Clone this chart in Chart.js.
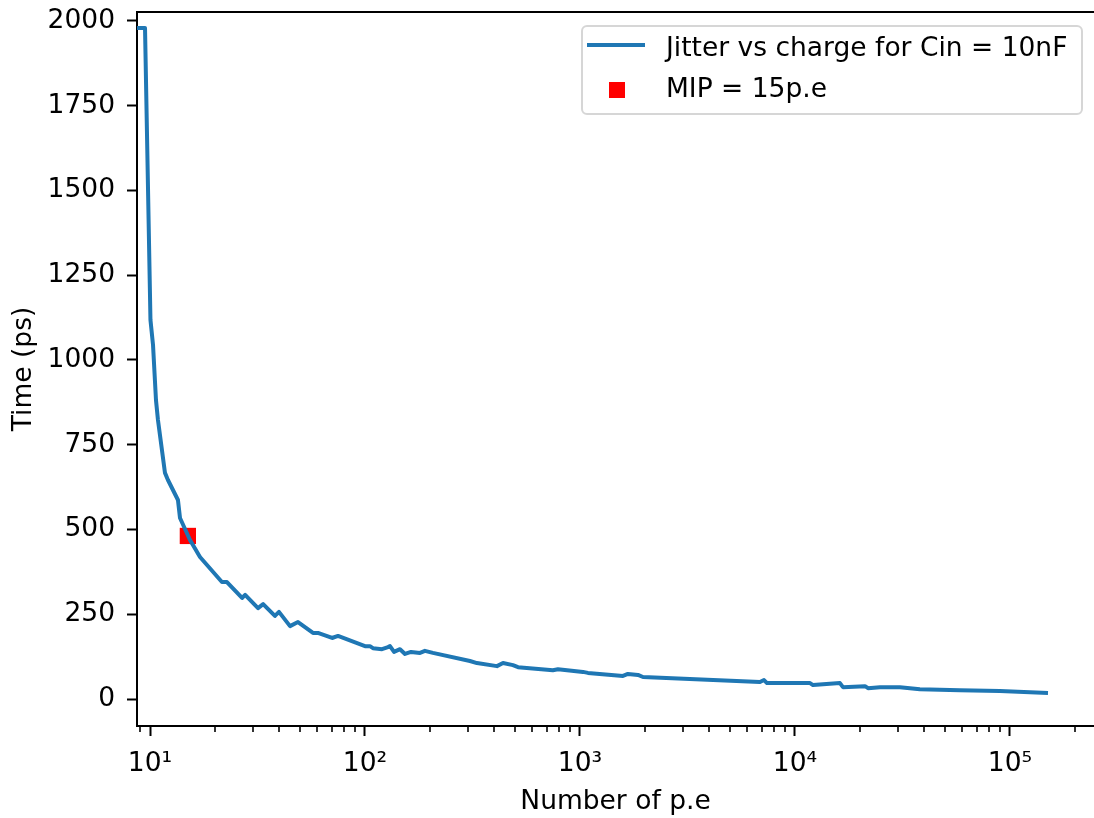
<!DOCTYPE html>
<html>
<head>
<meta charset="utf-8">
<title>Jitter vs charge</title>
<script src="https://cdn.jsdelivr.net/npm/chart.js@4.4.0/dist/chart.umd.min.js"></script>
<style>
    html, body { margin: 0; padding: 0; background: #fff; overflow: hidden; }
    #wrap { position: relative; width: 1094px; height: 818px; }
    #legenda {
        position: absolute; left: 581px; top: 25px; width: 498px; height: 86px;
        border: 2px solid #d6d6d6; border-radius: 6px; background: rgba(255, 255, 255, 0.8);
        font-family: 'DejaVu Sans'; font-size: 26.5px; color: #000;
    }
    .texto { position: absolute; left: 83px; line-height: 32px; white-space: nowrap; }
    #linha_leg { position: absolute; left: 4px; top: 16px; width: 58px; height: 4px; background: #1f77b4; }
    #quad_leg { position: absolute; left: 26px; top: 55px; width: 16px; height: 16px; background: #ff0000; }
</style>
</head>
<body>
<div id="wrap">
    <canvas id="chart_jitter" width="1094" height="818"></canvas>
    <div id="legenda">
        <div id="linha_leg"></div>
        <div class="texto" style="top: 4px;">Jitter vs charge for Cin = 10nF</div>
        <div id="quad_leg"></div>
        <div class="texto" style="top: 45px;">MIP = 15p.e</div>
    </div>
</div>
<script>
// dados
const carga = [8.70, 9.48, 10.05, 10.33, 10.66, 10.89, 11.74, 12.12, 13.49, 13.79, 15.35, 17.08,
    21.6, 22.8, 26.8, 27.7, 31.8, 33.6, 38.1, 39.8, 44.8, 48.8, 57.3, 60.4, 70.3, 74.9,
    100, 105.4, 108.9, 120, 128, 130.7, 136.5, 145.5, 153.5, 163.7, 180.3, 190, 207,
    307.8, 331.7, 411, 438.5, 487.8, 515, 748, 790, 1033, 1089, 1585, 1671, 1862, 1963,
    6871, 7178, 7413, 11750, 12130, 16190, 16720, 21170, 21870, 24850, 30770, 38110,
    58480, 89760, 150300];
const jitter = [1979, 1979, 1118, 1044, 882, 823, 667, 646, 587, 534, 469, 419,
    345, 345, 298, 307, 268, 280, 245, 257, 215, 227, 195, 195, 180, 186,
    156, 156, 150, 147, 153, 156, 139, 147, 133, 139, 136, 142, 136,
    112, 106, 97, 106, 100, 94, 85, 88, 80, 77, 68, 74, 71, 65,
    50, 56, 47, 47, 41, 47, 35, 38, 32, 35, 35, 29,
    26, 24, 18];

const mipCarga = [15];
const mipJitter = [481];

const ticksY = [0, 250, 500, 750, 1000, 1250, 1500, 1750, 2000];
const ticksX = [10, 100, 1000, 10000, 100000];
// o eixo x vai ate a borda direita da imagem
const limX = [8.7, 246000];
const limY = [-79.6, 2026.5];

const sobrescrito = { '0': '⁰', '1': '¹', '2': '²', '3': '³', '4': '⁴', '5': '⁵', '6': '⁶' };

// ticks menores do eixo log (2..9 x 10^n)
let ticksXmenores = [];
for (let d = 0; d <= 5; d++) {
    for (let k = 2; k <= 9; k++) {
        let v = k * Math.pow(10, d);
        if (v >= limX[0] && v <= limX[1]) ticksXmenores.push(v);
    }
}

let pontosJitter = [];
for (let i = 0; i < carga.length; i++) {
    pontosJitter.push({ x: carga[i], y: jitter[i] });
}
let pontosMip = [];
for (let i = 0; i < mipCarga.length; i++) {
    pontosMip.push({ x: mipCarga[i], y: mipJitter[i] });
}

const fonte = { family: 'DejaVu Sans', size: 26.5 };

// borda de cima e ticks menores
const molduraPlugin = {
    id: 'moldura',
    afterDraw(chart) {
        const ctx = chart.ctx;
        const area = chart.chartArea;
        const escalaX = chart.scales.x;
        ctx.save();
        ctx.strokeStyle = '#000';
        ctx.lineWidth = 2;
        ctx.beginPath();
        ctx.moveTo(area.left - 1, area.top);
        ctx.lineTo(area.right, area.top);
        ctx.stroke();
        ctx.lineWidth = 1.6;
        for (let i = 0; i < ticksXmenores.length; i++) {
            let px = Math.round(escalaX.getPixelForValue(ticksXmenores[i]));
            ctx.beginPath();
            ctx.moveTo(px, area.bottom);
            ctx.lineTo(px, area.bottom + 6);
            ctx.stroke();
        }
        ctx.restore();
    }
};

function semPadding(escala) {
    escala.paddingTop = 0;
    escala.paddingBottom = 0;
    escala.paddingLeft = 0;
    escala.paddingRight = 0;
}

const config_jitter = {
    type: 'scatter',
    data: {
        datasets: [{
            label: 'Jitter vs charge for Cin = 10nF',
            data: pontosJitter,
            showLine: true,
            borderColor: '#1f77b4',
            backgroundColor: '#1f77b4',
            borderWidth: 4,
            borderJoinStyle: 'round',
            pointRadius: 0,
            tension: 0
        }, {
            label: 'MIP = 15p.e',
            data: pontosMip,
            showLine: false,
            pointStyle: 'rect',
            pointRadius: 11.5,
            borderWidth: 0,
            backgroundColor: '#ff0000',
            borderColor: '#ff0000'
        }]
    },
    options: {
        responsive: false,
        animation: false,
        devicePixelRatio: 1,
        layout: {
            autoPadding: false,
            padding: { top: 12, right: 0, left: 0, bottom: 0 }
        },
        plugins: {
            legend: { display: false },
            tooltip: { enabled: false }
        },
        scales: {
            x: {
                type: 'logarithmic',
                min: limX[0],
                max: limX[1],
                afterBuildTicks: function (escala) {
                    escala.ticks = ticksX.map(v => ({ value: v }));
                },
                afterFit: function (escala) {
                    escala.height = 92;
                    semPadding(escala);
                },
                ticks: {
                    font: fonte,
                    color: '#000',
                    padding: 12,
                    maxRotation: 0,
                    autoSkip: false,
                    callback: function (valor) {
                        let exp = String(Math.round(Math.log10(valor)));
                        return '10' + exp.split('').map(c => sobrescrito[c]).join('');
                    }
                },
                grid: {
                    drawOnChartArea: false,
                    tickLength: 10,
                    tickWidth: 2,
                    tickColor: '#000'
                },
                border: { color: '#000', width: 2 },
                title: {
                    display: true,
                    text: 'Number of p.e',
                    font: fonte,
                    color: '#000',
                    padding: { top: 0, bottom: 0 }
                }
            },
            y: {
                type: 'linear',
                min: limY[0],
                max: limY[1],
                afterBuildTicks: function (escala) {
                    escala.ticks = ticksY.map(v => ({ value: v }));
                },
                afterFit: function (escala) {
                    escala.width = 137;
                    semPadding(escala);
                },
                ticks: {
                    font: fonte,
                    color: '#000',
                    padding: 12,
                    callback: function (valor) {
                        return String(valor);
                    }
                },
                grid: {
                    drawOnChartArea: false,
                    tickLength: 10,
                    tickWidth: 2,
                    tickColor: '#000'
                },
                border: { color: '#000', width: 2 },
                title: {
                    display: true,
                    text: 'Time (ps)',
                    font: fonte,
                    color: '#000',
                    padding: { top: 8, bottom: 0 }
                }
            }
        }
    },
    plugins: [molduraPlugin]
};

const chart_jitter = new Chart(
    document.getElementById('chart_jitter'),
    config_jitter
);
</script>
</body>
</html>
